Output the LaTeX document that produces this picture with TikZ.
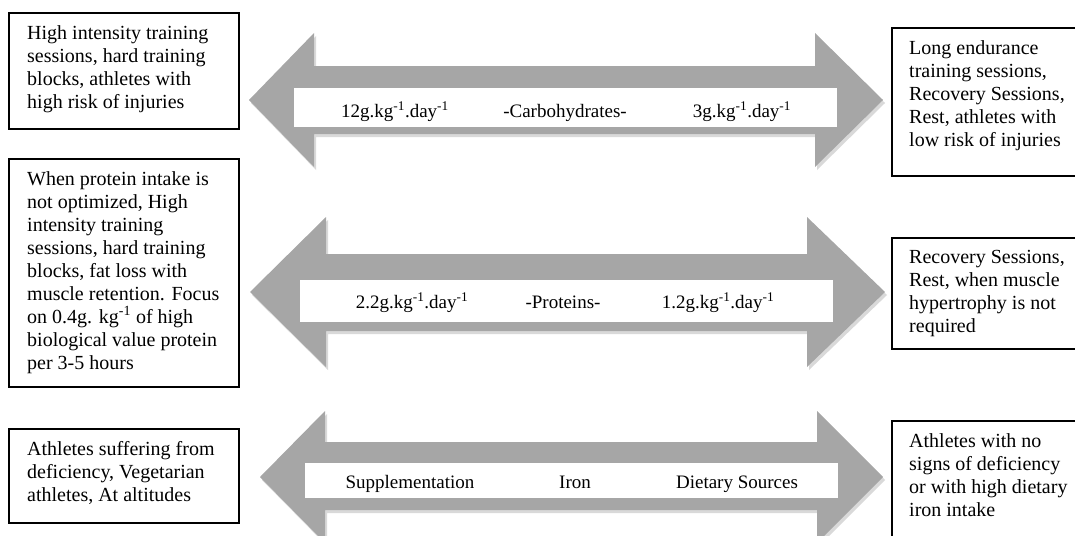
\documentclass[tikz,border=0pt]{standalone}
\usepackage{fontspec}
\setmainfont{Liberation Serif}
\usetikzlibrary{positioning}
\definecolor{arrowgray}{RGB}{166,166,166}

\begin{document}
\begin{tikzpicture}[x=1pt,y=-1pt,
  info box/.style={draw,line width=1.6pt,anchor=north west,inner sep=0pt},
  info text/.style={align=left,inner sep=0pt,font=\fontsize{20}{23}\selectfont},
  band/.style={fill=white,anchor=north west,inner sep=0pt},
  band text/.style={anchor=base,font=\fontsize{19}{22}\selectfont}]

  \useasboundingbox (0,0) rectangle (1075,535);
  \clip (0,0) rectangle (1075,535);

  % arrows
  \fill[black,opacity=.15,shift={(2,3)}] (249,100) -- (314,33) -- (314,66) -- (815,66) -- (815,33) -- (883,100)
    -- (815,167) -- (815,134) -- (314,134) -- (314,167) -- cycle;
  \fill[arrowgray] (249,100) -- (314,33) -- (314,66) -- (815,66) -- (815,33) -- (883,100)
    -- (815,167) -- (815,134) -- (314,134) -- (314,167) -- cycle;

  \fill[black,opacity=.15,shift={(2,3)}] (250,292) -- (326,217) -- (326,254) -- (807,254) -- (807,217) -- (885,292)
    -- (807,367) -- (807,331) -- (326,331) -- (326,367) -- cycle;
  \fill[arrowgray] (250,292) -- (326,217) -- (326,254) -- (807,254) -- (807,217) -- (885,292)
    -- (807,367) -- (807,331) -- (326,331) -- (326,367) -- cycle;

  \fill[black,opacity=.15,shift={(2,3)}] (260,477) -- (325,411) -- (325,442) -- (817,442) -- (817,411) -- (883,477)
    -- (817,543) -- (817,510) -- (325,510) -- (325,543) -- cycle;
  \fill[arrowgray] (260,477) -- (325,411) -- (325,442) -- (817,442) -- (817,411) -- (883,477)
    -- (817,543) -- (817,510) -- (325,510) -- (325,543) -- cycle;

  % bands
  \node[band,minimum width=543,minimum height=39] (carbBand) at (294,88) {};
  \node[band,minimum width=533,minimum height=42] (protBand) at (300,280) {};
  \node[band,minimum width=533,minimum height=35] (ironBand) at (305,463) {};

  \node[band text] (carbHigh) at (395,117) {12g.kg\textsuperscript{-1}.day\textsuperscript{-1}};
  \node[band text] (carbName) at (565,117) {-Carbohydrates-};
  \node[band text] (carbLow) at (742,117) {3g.kg\textsuperscript{-1}.day\textsuperscript{-1}};

  \node[band text] (protHigh) at (412,308) {2.2g.kg\textsuperscript{-1}.day\textsuperscript{-1}};
  \node[band text] (protName) at (563,308) {-Proteins-};
  \node[band text] (protLow) at (718,308) {1.2g.kg\textsuperscript{-1}.day\textsuperscript{-1}};

  \node[band text] (ironHigh) at (410,488) {Supplementation};
  \node[band text] (ironName) at (575,488) {Iron};
  \node[band text] (ironLow) at (737,488) {Dietary Sources};

  % left boxes
  \node[info box,minimum width=230,minimum height=116] (carbHighBox) at (8,12) {};
  \node[info text,below right=13pt and 19pt of carbHighBox.north west] (carbHighText)
    {High intensity training\\sessions, hard training\\blocks, athletes with\\high risk of injuries};

  \node[info box,minimum width=230,minimum height=228] (protHighBox) at (8,158) {};
  \node[info text,below right=13pt and 19pt of protHighBox.north west] (protHighText)
    {When protein intake is\\not optimized, High\\intensity training\\sessions, hard training\\blocks, fat loss with\\muscle retention. Focus\\on 0.4g. kg\textsuperscript{-1} of high\\biological value protein\\per 3-5 hours};

  \node[info box,minimum width=230,minimum height=94] (ironHighBox) at (8,428) {};
  \node[info text,below right=13pt and 19pt of ironHighBox.north west] (ironHighText)
    {Athletes suffering from\\deficiency, Vegetarian\\athletes, At altitudes};

  % right boxes
  \node[info box,minimum width=200,minimum height=148] (carbLowBox) at (891,27) {};
  \node[info text,below right=13pt and 18pt of carbLowBox.north west] (carbLowText)
    {Long endurance\\training sessions,\\Recovery Sessions,\\Rest, athletes with\\low risk of injuries};

  \node[info box,minimum width=200,minimum height=111] (protLowBox) at (891,237) {};
  \node[info text,below right=13pt and 18pt of protLowBox.north west] (protLowText)
    {Recovery Sessions,\\Rest, when muscle\\hypertrophy is not\\required};

  \node[info box,minimum width=200,minimum height=140] (ironLowBox) at (891,420) {};
  \node[info text,below right=13pt and 18pt of ironLowBox.north west] (ironLowText)
    {Athletes with no\\signs of deficiency\\or with high dietary\\iron intake};
\end{tikzpicture}
\end{document}
